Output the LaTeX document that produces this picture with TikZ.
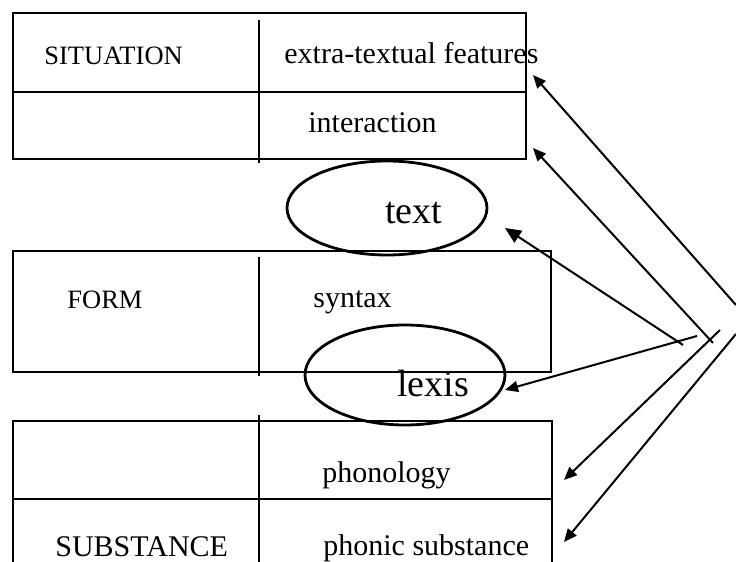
\documentclass[tikz,border=0pt]{standalone}
\usepackage{fontspec}
\setmainfont{Liberation Serif}
\usetikzlibrary{arrows.meta,shapes.geometric}

\begin{document}
\begin{tikzpicture}[
    x=0.5pt, y=-0.5pt,
    frame/.style={line width=1.3pt},
    rule/.style={line width=1pt},
    ring/.style={draw, ellipse, line width=1.4pt, inner sep=0pt},
    caps/.style={anchor=base west, inner sep=0pt, font=\fontsize{13.25}{15}\selectfont},
    entry/.style={anchor=base west, inner sep=0pt, font=\fontsize{15}{18}\selectfont},
    big/.style={anchor=base west, inner sep=0pt, font=\fontsize{19}{22}\selectfont},
    arr/.style={-{Triangle[length=6.5pt, width=5.5pt]}, line width=1pt}
]
\useasboundingbox (0,0) rectangle (736,562);
% three tables
\draw[frame] (13,13) rectangle (526,159);
\draw[rule] (13,92) -- (526,92);
\draw[rule] (259,20) -- (259,163);
\draw[frame] (13,251) rectangle (551,372);
\draw[rule] (259,257) -- (259,376);
\draw[frame] (13,562) -- (13,421) -- (552,421) -- (552,562);
\draw[rule] (13,499) -- (552,499);
\draw[rule] (259,415) -- (259,562);
% ellipses
\node[ring, minimum width=100pt, minimum height=47pt] (textring) at (387,208) {};
\node[ring, minimum width=100pt, minimum height=50pt] (lexisring) at (405,375) {};
% labels
\node[caps] (situation) at (44,65) {SITUATION};
\node[entry] (extra) at (284,63) {extra-textual features};
\node[entry] (interaction) at (308,133) {interaction};
\node[big] (textlbl) at (385,223) {text};
\node[caps] (form) at (67,308) {FORM};
\node[entry] (syntax) at (313,307) {syntax};
\node[big] (lexis) at (397,397) {lexis};
\node[entry] (phonology) at (322,482) {phonology};
\node[entry] (substance) at (55,557) {SUBSTANCE};
\node[entry] (phonic) at (323,555) {phonic substance};
% arrow ends
\coordinate (t1) at (736,305);
\coordinate (t2) at (713,343);
\coordinate (t3) at (683,345);
\coordinate (t4) at (697,336);
\coordinate (t5) at (720,330);
\coordinate (t6) at (736,334);
\coordinate (a1) at (533,75);
\coordinate (a2) at (533,148);
\coordinate (a3) at (505,228);
\coordinate (a4) at (505,390);
\coordinate (a5) at (564,480);
\coordinate (a6) at (564,542);
\draw[arr] (t1) -- (a1);
\draw[arr] (t2) -- (a2);
\draw[arr, -{Triangle[length=8pt, width=7pt]}] (t3) -- (a3);
\draw[arr] (t4) -- (a4);
\draw[arr] (t5) -- (a5);
\draw[arr] (t6) -- (a6);
\end{tikzpicture}
\end{document}
